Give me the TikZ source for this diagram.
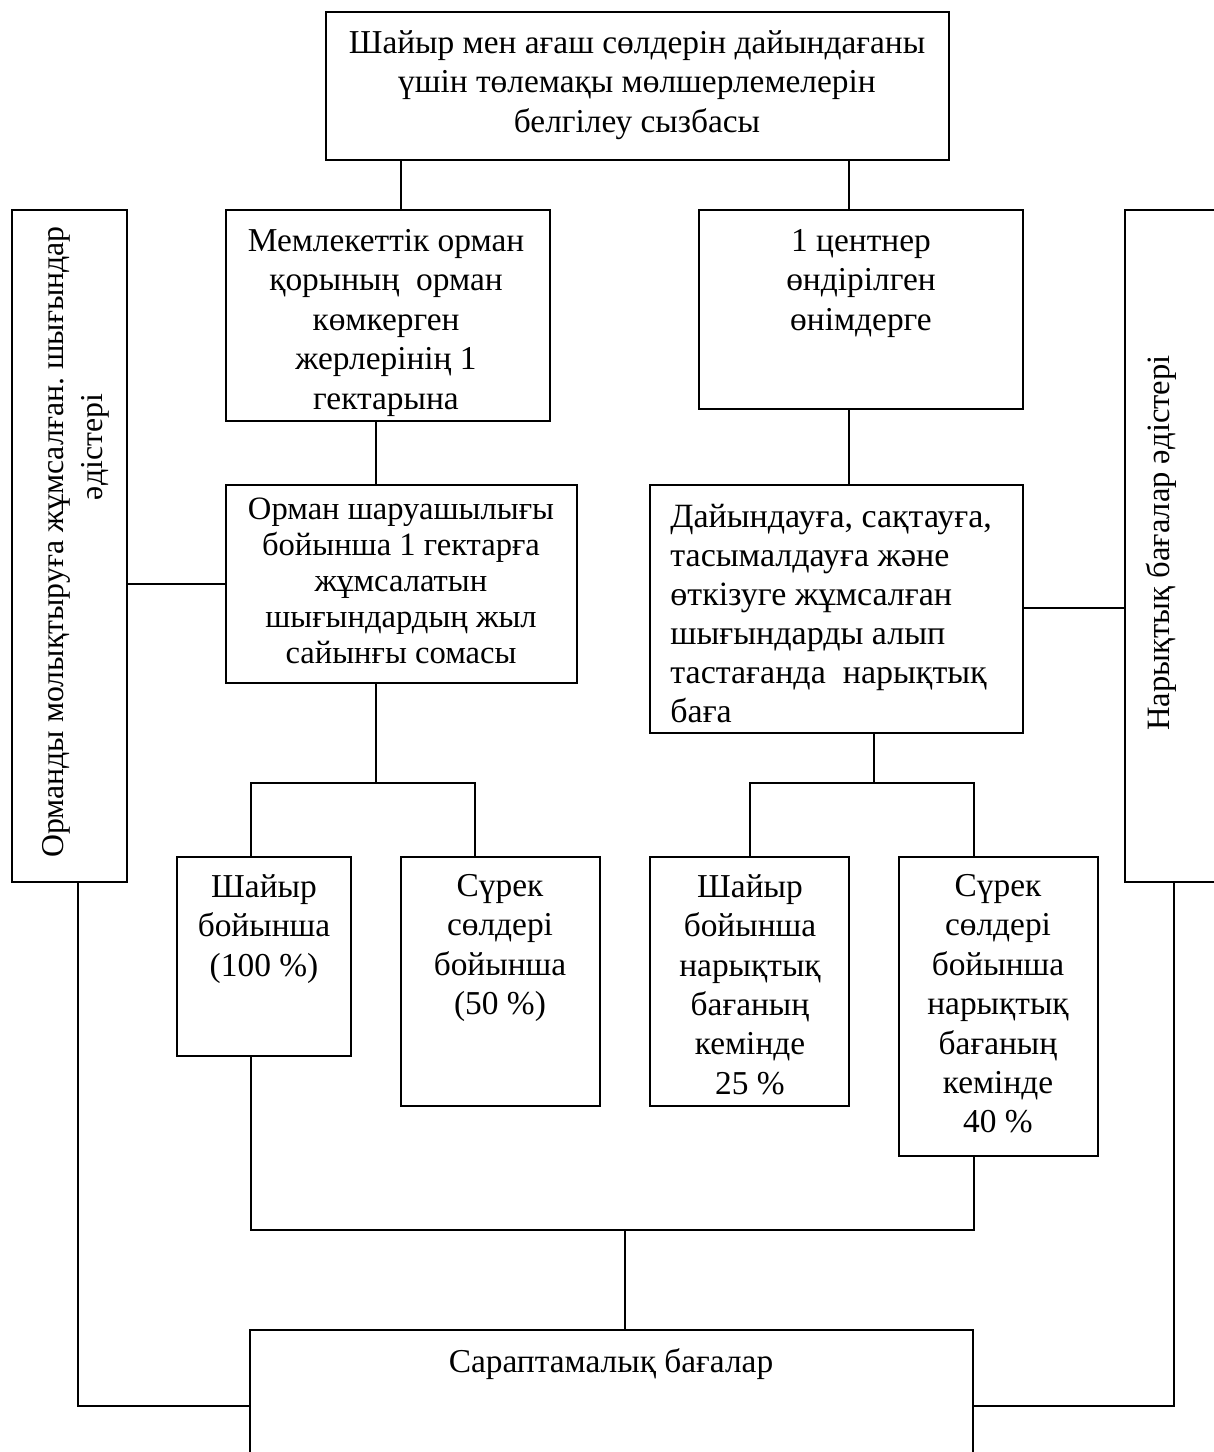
\documentclass[tikz,border=0pt]{standalone}
\usepackage{fontspec}
\setmainfont{Liberation Serif}
\usetikzlibrary{fit}
\frenchspacing

\tikzset{qorap/.style={draw, line width=0.9pt, inner sep=0pt},
    jazu/.style={font=\fontsize{16.7}{19.7}\selectfont, align=center, anchor=north, inner sep=0pt},
    tik/.style={rotate=90, font=\fontsize{16.3}{19.5}\selectfont, inner sep=0pt},
    baylanys/.style={line width=0.9pt}}

% box from corner (x1,y1) to corner (x2,y2), in pixels
\newcommand\qorapsyz[5]{%
    \path (#2,#3) coordinate (#1nw) (#4,#5) coordinate (#1se);
    \node[qorap, fit=(#1nw)(#1se)] (#1) {};}

\begin{document}
\begin{tikzpicture}[x=0.5pt, y=-0.5pt]
            \useasboundingbox (0,0) rectangle (1214,1452);
            \clip (0,0) rectangle (1214,1452);

            % boxes
            \qorapsyz{Tak}{326}{12}{949}{160}
            \qorapsyz{Sol}{12}{210}{127}{882}
            \qorapsyz{Ong}{1125}{210}{1240}{882}
            \qorapsyz{A}{226}{210}{550}{421}
            \qorapsyz{B}{699}{210}{1023}{409}
            \qorapsyz{C}{226}{485}{577}{683}
            \qorapsyz{D}{650}{485}{1023}{733}
            \qorapsyz{E}{177}{857}{351}{1056}
            \qorapsyz{F}{401}{857}{600}{1106}
            \qorapsyz{G}{650}{857}{849}{1106}
            \qorapsyz{H}{899}{857}{1098}{1156}
            \qorapsyz{Bag}{250}{1330}{973}{1480}

            % texts
            \node[jazu] (Takj) at (637,30) {Шайыр мен ағаш сөлдерін дайындағаны\\үшін төлемақы мөлшерлемелерін\\белгілеу сызбасы};
            \node[jazu] (Aj) at (386,229) {Мемлекеттік орман\\қорының~ орман\\көмкерген\\жерлерінің 1\\гектарына};
            \node[jazu] (Bj) at (861,229) {1 центнер\\өндірілген\\өнімдерге};
            \node[jazu, font=\fontsize{16.3}{18}\selectfont] (Cj) at (401,498) {Орман шаруашылығы\\бойынша 1 гектарға\\жұмсалатын\\шығындардың жыл\\сайынғы сомасы};
            \node[jazu, font=\fontsize{17}{19.5}\selectfont, align=left, anchor=north west] (Dj) at (670,504) {Дайындауға, сақтауға,\\тасымалдауға және\\өткізуге жұмсалған\\шығындарды алып\\тастағанда~ нарықтық\\баға};
            \node[jazu] (Ej) at (264,874) {Шайыр\\бойынша\\(100 \%)};
            \node[jazu] (Fj) at (500,874) {Сүрек\\сөлдері\\бойынша\\(50 \%)};
            \node[jazu] (Gj) at (750,874) {Шайыр\\бойынша\\нарықтық\\бағаның\\кемінде\\25 \%};
            \node[jazu] (Hj) at (998,874) {Сүрек\\сөлдері\\бойынша\\нарықтық\\бағаның\\кемінде\\40 \%};
            \node[jazu] (Bagj) at (611,1348) {Сараптамалық бағалар};
            \node[tik, font=\fontsize{15.9}{19}\selectfont] (Solj1) at (56,542) {Орманды молықтыруға жұмсалған. шығындар};
            \node[tik, font=\fontsize{15.9}{19}\selectfont] (Solj2) at (95,447) {әдістері};
            \node[tik] (Ongj) at (1161,543) {Нарықтық бағалар әдістері};

            % columns and rows of the connectors
            \coordinate (k1) at (401,0);
            \coordinate (k2) at (849,0);
            \coordinate (k3) at (376,0);
            \coordinate (k4) at (874,0);
            \coordinate (k5) at (251,0);
            \coordinate (k6) at (475,0);
            \coordinate (k7) at (500,0);
            \coordinate (k8) at (750,0);
            \coordinate (k9) at (974,0);
            \coordinate (Cayr) at (376,783);
            \coordinate (Dayr) at (874,783);
            \coordinate (Qos) at (625,1230);
            \coordinate (SolT) at (78,1406);
            \coordinate (OngT) at (1174,1406);

            % connectors
            \draw[baylanys] (Tak.south -| k1) -- (A.north -| k1);
            \draw[baylanys] (Tak.south -| k2) -- (B.north -| k2);
            \draw[baylanys] (A.south -| k3) -- (C.north -| k3);
            \draw[baylanys] (B.south -| k2) -- (D.north -| k2);
            \draw[baylanys] (Sol.east |- 0,584) -- (C.west |- 0,584);
            \draw[baylanys] (D.east |- 0,608) -- (Ong.west |- 0,608);
            \draw[baylanys] (C.south -| Cayr) -- (Cayr);
            \draw[baylanys] (E.north -| k5) |- (Cayr) -| (F.north -| k6);
            \draw[baylanys] (D.south -| Dayr) -- (Dayr);
            \draw[baylanys] (G.north -| k8) |- (Dayr) -| (H.north -| k9);
            \draw[baylanys] (E.south -| k5) |- (Qos) -| (H.south -| k9);
            \draw[baylanys] (F.south -| k7) -- (F.south -| k7 |- Qos);
            \draw[baylanys] (G.south -| k8) -- (G.south -| k8 |- Qos);
            \draw[baylanys] (Qos) -- (Bag.north -| Qos);
            \draw[baylanys] (Sol.south -| SolT) -- (SolT) -- (Bag.west |- SolT);
            \draw[baylanys] (Ong.south -| OngT) -- (OngT) -- (Bag.east |- OngT);
        \end{tikzpicture}
\end{document}
